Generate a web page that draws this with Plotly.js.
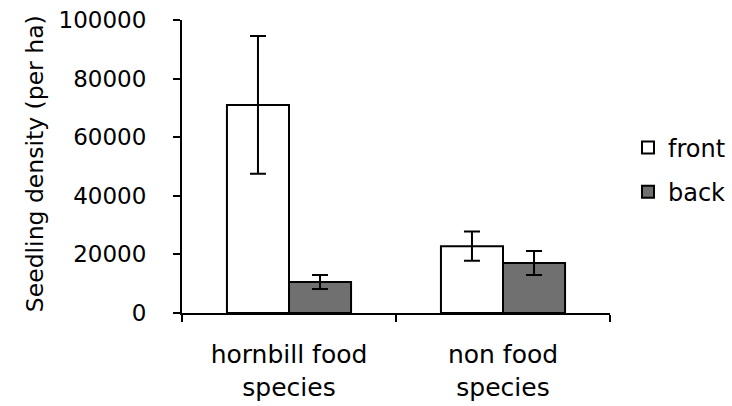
<!DOCTYPE html>
<html>
<head>
<meta charset="utf-8">
<script src="https://cdn.plot.ly/plotly-3.0.1.min.js"></script>
<style>html,body{margin:0;padding:0;background:#fff;}#chart{width:732px;height:406px;}</style>
</head>
<body>
<div id="chart"></div>
<script>
var categories = ["hornbill food<br>species", "non food<br>species"];
var frontValues = [71000, 22800];
var frontErrors = [23500, 5000];
var backValues = [10600, 17100];
var backErrors = [2400, 4100];
var yTickVals = [0, 20000, 40000, 60000, 80000, 100000];
var yTickText = ["0", "20000", "40000", "60000", "80000", "100000"];

var fontFam = "DejaVu Sans, Arial, sans-serif";

var traces = [
  {
    type: "bar", name: "front", x: categories, y: frontValues,
    legendgroup: "a",
    marker: {color: "#ffffff", line: {color: "#000000", width: 2}},
    error_y: {type: "data", array: frontErrors, visible: true, color: "#000000", thickness: 2, width: 8}
  },
  {
    type: "bar", name: "back", x: categories, y: backValues,
    legendgroup: "b",
    marker: {color: "#707070", line: {color: "#000000", width: 2}},
    error_y: {type: "data", array: backErrors, visible: true, color: "#000000", thickness: 2, width: 8}
  }
];

var layout = {
  width: 732, height: 406,
  margin: {l: 182, r: 122, t: 20, b: 93, pad: 0, autoexpand: false},
  paper_bgcolor: "#ffffff", plot_bgcolor: "#ffffff",
  font: {family: fontFam, color: "#000000"},
  barmode: "group",
  bargap: 0.42,
  bargroupgap: 0,
  showlegend: true,
  legend: {
    x: 1.042, xanchor: "left", y: 0.64, yanchor: "top",
    font: {family: fontFam, size: 24, color: "#000000"},
    tracegroupgap: 10,
    bgcolor: "rgba(0,0,0,0)"
  },
  xaxis: {
    type: "category",
    range: [-0.5, 1.5],
    showline: true, linecolor: "#000000", linewidth: 2,
    ticks: "outside", tickson: "boundaries", ticklen: 7, tickwidth: 2, tickcolor: "#000000",
    tickfont: {family: fontFam, size: 25, color: "#000000"},
    ticklabelstandoff: 18,
    showgrid: false, zeroline: false, fixedrange: true
  },
  yaxis: {
    range: [0, 100000],
    tickvals: yTickVals, ticktext: yTickText,
    showline: true, linecolor: "#000000", linewidth: 2,
    ticks: "outside", ticklen: 7, tickwidth: 2, tickcolor: "#000000",
    tickfont: {family: fontFam, size: 23, color: "#000000"},
    ticklabelstandoff: 22,
    showgrid: false, zeroline: false, fixedrange: true
  },
  annotations: [
    {
      text: "Seedling density (per ha)",
      xref: "paper", yref: "paper",
      x: -0.343, xanchor: "center",
      y: -0.005, yanchor: "bottom",
      textangle: -90, showarrow: false,
      font: {family: fontFam, size: 23.5, color: "#000000"}
    }
  ]
};

Plotly.newPlot("chart", traces, layout, {displayModeBar: false, staticPlot: true});
</script>
</body>
</html>
